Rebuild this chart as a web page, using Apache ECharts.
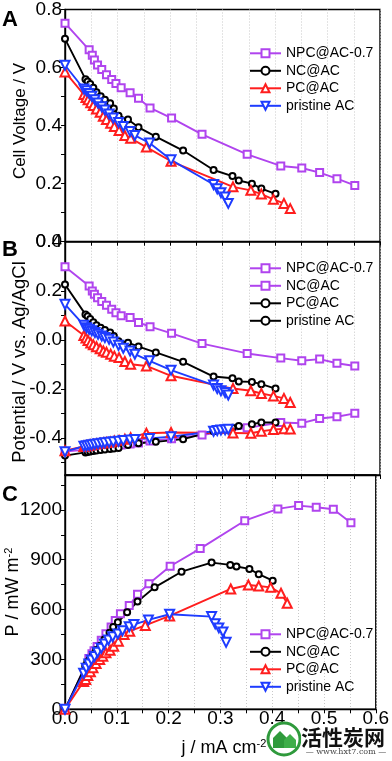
<!DOCTYPE html>
<html><head><meta charset="utf-8">
<script src="https://cdn.jsdelivr.net/npm/echarts@6/dist/echarts.min.js"></script>
<style>html,body{margin:0;padding:0;background:#fff}#c{width:392px;height:761px}</style>
</head><body><div id="c"></div>
<script>
// ---------- Panel A: cell voltage ----------
const jNPC = [0, 0.046, 0.052, 0.056, 0.062, 0.070, 0.079, 0.089, 0.097, 0.107, 0.124, 0.140, 0.162, 0.203, 0.261, 0.347, 0.411, 0.451, 0.485, 0.518, 0.552];
const vNPC = [0.753, 0.661, 0.642, 0.626, 0.609, 0.593, 0.575, 0.559, 0.545, 0.530, 0.513, 0.494, 0.461, 0.426, 0.370, 0.301, 0.261, 0.254, 0.238, 0.217, 0.194];
const jNC = [0, 0.039, 0.043, 0.048, 0.054, 0.060, 0.068, 0.076, 0.086, 0.093, 0.102, 0.120, 0.140, 0.173, 0.225, 0.283, 0.319, 0.331, 0.356, 0.374, 0.401];
const vNC = [0.699, 0.560, 0.552, 0.543, 0.530, 0.515, 0.501, 0.489, 0.477, 0.459, 0.434, 0.421, 0.394, 0.362, 0.314, 0.247, 0.226, 0.211, 0.200, 0.183, 0.165];
const jPC = [0, 0.036, 0.040, 0.044, 0.049, 0.054, 0.060, 0.067, 0.073, 0.079, 0.087, 0.094, 0.103, 0.114, 0.125, 0.155, 0.202, 0.320, 0.354, 0.374, 0.397, 0.417, 0.429];
const vPC = [0.585, 0.507, 0.497, 0.489, 0.479, 0.469, 0.457, 0.446, 0.432, 0.421, 0.408, 0.397, 0.383, 0.366, 0.356, 0.326, 0.277, 0.189, 0.177, 0.164, 0.146, 0.132, 0.114];
const jAC = [0, 0.036, 0.041, 0.046, 0.051, 0.057, 0.063, 0.070, 0.076, 0.084, 0.092, 0.102, 0.111, 0.124, 0.133, 0.161, 0.202, 0.283, 0.290, 0.297, 0.305, 0.311];
const vAC = [0.608, 0.526, 0.520, 0.511, 0.501, 0.489, 0.478, 0.465, 0.454, 0.440, 0.426, 0.411, 0.397, 0.380, 0.366, 0.340, 0.282, 0.197, 0.182, 0.169, 0.154, 0.132];

// ---------- Panel B: electrode potentials (c = cathode, a = anode) ----------
const bNPCc = [0.298, 0.220, 0.199, 0.186, 0.172, 0.157, 0.141, 0.125, 0.111, 0.098, 0.091, 0.071, 0.054, 0.027, -0.015, -0.055, -0.074, -0.085, -0.078, -0.095, -0.106];
const bNPCa = [-0.455, -0.445, -0.443, -0.441, -0.438, -0.436, -0.434, -0.432, -0.430, -0.428, -0.424, -0.420, -0.412, -0.402, -0.387, -0.358, -0.336, -0.339, -0.320, -0.313, -0.299];
const bNCc = [0.226, 0.104, 0.096, 0.085, 0.072, 0.060, 0.050, 0.040, 0.030, 0.016, -0.005, -0.011, -0.027, -0.051, -0.089, -0.149, -0.156, -0.169, -0.171, -0.180, -0.198];
const bNCa = [-0.471, -0.458, -0.456, -0.454, -0.452, -0.450, -0.448, -0.446, -0.444, -0.442, -0.440, -0.428, -0.421, -0.415, -0.404, -0.372, -0.358, -0.350, -0.343, -0.336, -0.336];
const bPCc = [0.077, 0.018, 0.008, -0.002, -0.012, -0.020, -0.028, -0.036, -0.045, -0.050, -0.058, -0.066, -0.072, -0.088, -0.099, -0.106, -0.146, -0.198, -0.207, -0.218, -0.228, -0.238, -0.255];
const bPCa = [-0.451, -0.434, -0.432, -0.430, -0.428, -0.426, -0.424, -0.422, -0.420, -0.418, -0.416, -0.412, -0.409, -0.404, -0.398, -0.380, -0.377, -0.379, -0.380, -0.372, -0.365, -0.362, -0.363];
const bACc = [0.145, 0.060, 0.050, 0.043, 0.037, 0.030, 0.023, 0.016, 0.010, 0.003, -0.008, -0.022, -0.034, -0.045, -0.058, -0.085, -0.123, -0.184, -0.198, -0.207, -0.214, -0.224];
const bACa = [-0.455, -0.433, -0.431, -0.429, -0.427, -0.425, -0.423, -0.421, -0.419, -0.417, -0.415, -0.413, -0.410, -0.407, -0.405, -0.401, -0.394, -0.372, -0.369, -0.367, -0.366, -0.364];

// ---------- Panel C: power density ----------
const pNPC = [0, 305, 335, 352, 378, 415, 455, 495, 535, 575, 625, 692, 756, 861, 967, 1135, 1206, 1226, 1216, 1204, 1123];
const pNC = [0, 260, 285, 303, 330, 357, 382, 420, 460, 495, 524, 584, 648, 734, 828, 883, 869, 859, 845, 813, 774];
const pPC = [0, 168, 180, 204, 226, 250, 275, 300, 320, 340, 355, 380, 410, 450, 470, 505, 562, 724, 748, 742, 734, 698, 638];
const pAC = [0, 217, 247, 273, 297, 317, 343, 367, 393, 417, 437, 453, 473, 497, 510, 538, 572, 558, 515, 490, 465, 403];

// ---------- tick labels ----------
const xTickLabels = [0, 0.1, 0.2, 0.3, 0.4, 0.5, 0.6];
const aTickLabels = [0, 0.2, 0.4, 0.6, 0.8];
const bTickLabels = [-0.4, -0.2, 0, 0.2, 0.4];
const bTicks = [-0.5, -0.4, -0.3, -0.2, -0.1, 0, 0.1, 0.2, 0.3, 0.4];
const cTickLabels = [0, 300, 600, 900, 1200];

const legendNames = ['NPC@AC-0.7', 'NC@AC', 'PC@AC', 'pristine AC'];

const PURPLE = '#B044EE', BLACK = '#000000', RED = '#FF1E1E', BLUE = '#1E3CFF';
const FONT = '"Liberation Sans", Arial, sans-serif';

function pts(xs, ys) { return xs.map((x, i) => [x, ys[i]]); }
function ser(name, gi, xs, ys, color, symbol, size, rot) {
  return {
    name, type: 'line', xAxisIndex: gi, yAxisIndex: gi, data: pts(xs, ys),
    symbol, symbolSize: size, symbolRotate: rot || 0, showSymbol: true,
    lineStyle: { color, width: 1.9 },
    itemStyle: { color, borderWidth: 1 },
    animation: false, clip: false, emphasis: { disabled: true }
  };
}

const gridLeft = 65, gridW = 315;
const grids = [
  { left: gridLeft, width: gridW, top: 8.3, height: 233.4 },
  { left: gridLeft, width: gridW, top: 241.7, height: 233.3 },
  { left: gridLeft, width: gridW, top: 475, height: 234.3 }
].map(g => Object.assign(g, { show: true, borderColor: '#000', borderWidth: 1.4, backgroundColor: 'transparent' }));

function xAx(gi, showLabel) {
  return {
    gridIndex: gi, type: 'value', min: 0, max: 0.6, interval: 0.05,
    axisLine: { show: true, onZero: false, lineStyle: { color: '#000', width: 1.4 } },
    axisTick: { show: true, inside: false, length: 4, lineStyle: { color: '#000', width: 1 } },
    axisLabel: {
      show: showLabel, margin: 0, color: '#000', fontSize: 19, fontFamily: FONT,
      formatter: v => { const r = Math.round(v * 20) / 20; return xTickLabels.some(t => Math.abs(t - r) < 1e-6) ? r.toFixed(1) : ''; }
    },
    splitLine: { show: true, lineStyle: { color: '#c8c8c8', type: [1, 2], width: 1 } }
  };
}
const yLabelBase = { margin: 3, color: '#000', fontSize: 19, fontFamily: FONT };
const yAxes = [
  {
    gridIndex: 0, type: 'value', min: 0, max: 0.8, interval: 0.1,
    axisLine: { show: true, onZero: false, lineStyle: { color: '#000', width: 1.4 } },
    axisTick: { show: true, inside: false, length: 4, lineStyle: { color: '#000' } },
    axisLabel: Object.assign({}, yLabelBase, {
      formatter: v => { const r = Math.round(v * 10) / 10; return aTickLabels.some(t => Math.abs(t - r) < 1e-6) ? r.toFixed(1) : ''; }
    }),
    splitLine: { show: false }
  },
  {
    gridIndex: 1, type: 'value', min: -0.55, max: 0.4,
    axisLine: { show: true, onZero: false, lineStyle: { color: '#000', width: 1.4 } },
    axisTick: { show: true, inside: false, length: 4, customValues: bTicks, lineStyle: { color: '#000' } },
    axisLabel: Object.assign({}, yLabelBase, { customValues: bTickLabels, formatter: v => (Math.round(v * 10) / 10).toFixed(1) }),
    splitLine: { show: false }
  },
  {
    gridIndex: 2, type: 'value', min: 0, max: 1410, interval: 150,
    axisLine: { show: true, onZero: false, lineStyle: { color: '#000', width: 1.4 } },
    axisTick: { show: true, inside: false, length: 4, lineStyle: { color: '#000' } },
    axisLabel: Object.assign({}, yLabelBase, { showMaxLabel: false, formatter: v => cTickLabels.indexOf(v) >= 0 ? String(v) : '' }),
    splitLine: { show: false }
  }
];

const series = [
  ser('A1', 0, jNPC, vNPC, PURPLE, 'emptyRect', 7),
  ser('A2', 0, jNC, vNC, BLACK, 'emptyCircle', 6),
  ser('A3', 0, jPC, vPC, RED, 'emptyTriangle', 9),
  ser('A4', 0, jAC, vAC, BLUE, 'emptyTriangle', 9, 180),

  ser('B1', 1, jNPC, bNPCc, PURPLE, 'emptyRect', 7),
  ser('B2', 1, jNPC, bNPCa, PURPLE, 'emptyRect', 7),
  ser('B3', 1, jNC, bNCc, BLACK, 'emptyCircle', 6),
  ser('B4', 1, jNC, bNCa, BLACK, 'emptyCircle', 6),
  ser('B5', 1, jPC, bPCc, RED, 'emptyTriangle', 9),
  ser('B6', 1, jPC, bPCa, RED, 'emptyTriangle', 9),
  ser('B7', 1, jAC, bACc, BLUE, 'emptyTriangle', 9, 180),
  ser('B8', 1, jAC, bACa, BLUE, 'emptyTriangle', 9, 180),

  ser('C1', 2, jNPC, pNPC, PURPLE, 'emptyRect', 7),
  ser('C2', 2, jNC, pNC, BLACK, 'emptyCircle', 6),
  ser('C3', 2, jPC, pPC, RED, 'emptyTriangle', 9),
  ser('C4', 2, jAC, pAC, BLUE, 'emptyTriangle', 9, 180)
];

function legend(prefix, top) {
  const names = [1, 2, 3, 4].map(i => prefix + i);
  return {
    data: names, orient: 'vertical', left: 249, top, padding: 0,
    itemWidth: 31, itemHeight: 10, itemGap: 3.5, selectedMode: false,
    formatter: n => legendNames[+n.slice(1) - 1],
    textStyle: { fontSize: 14, lineHeight: 14, color: '#000', fontFamily: FONT }
  };
}

const graphic = [
  { type: 'text', left: 2, top: 9, style: { text: 'A', font: 'bold 22px ' + FONT, fill: '#000' } },
  { type: 'text', left: 2, top: 239, style: { text: 'B', font: 'bold 22px ' + FONT, fill: '#000' } },
  { type: 'text', left: 2, top: 484, style: { text: 'C', font: 'bold 22px ' + FONT, fill: '#000' } },
  { type: 'text', x: 20, y: 121, rotation: Math.PI / 2, style: { text: 'Cell Voltage / V', font: '17px ' + FONT, fill: '#000', align: 'center', verticalAlign: 'middle' } },
  { type: 'text', x: 20, y: 362, rotation: Math.PI / 2, style: { text: 'Potential / V vs. Ag/AgCl', font: '18.5px ' + FONT, fill: '#000', align: 'center', verticalAlign: 'middle' } },
  { type: 'text', x: 13, y: 592, rotation: Math.PI / 2, style: {
      text: '{a|P / mW m}{b|-2}', align: 'center', verticalAlign: 'middle',
      rich: { a: { fontSize: 18, fontFamily: FONT, lineHeight: 20, fill: '#000' }, b: { fontSize: 11, fontFamily: FONT, lineHeight: 11, verticalAlign: 'top', fill: '#000' } } } },
  { type: 'text', x: 224, y: 748, style: {
      text: '{a|j / mA cm}{b|-2}', align: 'center', verticalAlign: 'middle',
      rich: { a: { fontSize: 18, fontFamily: FONT, lineHeight: 20, fill: '#000' }, b: { fontSize: 11, fontFamily: FONT, lineHeight: 11, verticalAlign: 'top', fill: '#000' } } } },
  // watermark
  { type: 'circle', shape: { cx: 284, cy: 739, r: 16 }, style: { fill: '#ffffff', stroke: '#2f9a3c', lineWidth: 3 }, z: 100 },
  { type: 'polygon', shape: { points: [[273, 748], [273, 738], [280, 731], [287, 738], [287, 748]] }, style: { fill: '#2f9a3c' }, z: 101 },
  { type: 'polygon', shape: { points: [[284, 748], [284, 740], [290, 734], [296, 740], [296, 748]] }, style: { fill: '#3fae4a' }, z: 101 },
  { type: 'text', x: 343, y: 737, style: { text: '活性炭网', font: 'bold 21px "Noto Sans CJK SC", sans-serif', fill: '#111', align: 'center', verticalAlign: 'middle', backgroundColor: 'rgba(255,255,255,0.85)' }, z: 100 },
  { type: 'text', x: 346, y: 752, style: { text: '— www.hxt7.com —', font: '8px "DejaVu Serif", serif', fill: '#444', align: 'center', verticalAlign: 'middle' }, z: 100 }
];

const chart = echarts.init(document.getElementById('c'), null, { renderer: 'canvas' });
chart.setOption({
  animation: false,
  backgroundColor: '#ffffff',
  grid: grids,
  xAxis: [xAx(0, false), xAx(1, false), xAx(2, true)],
  yAxis: yAxes,
  legend: [legend('A', 46.3), legend('B', 261.3), legend('C', 627.3)],
  series,
  graphic
});
</script></body></html>
